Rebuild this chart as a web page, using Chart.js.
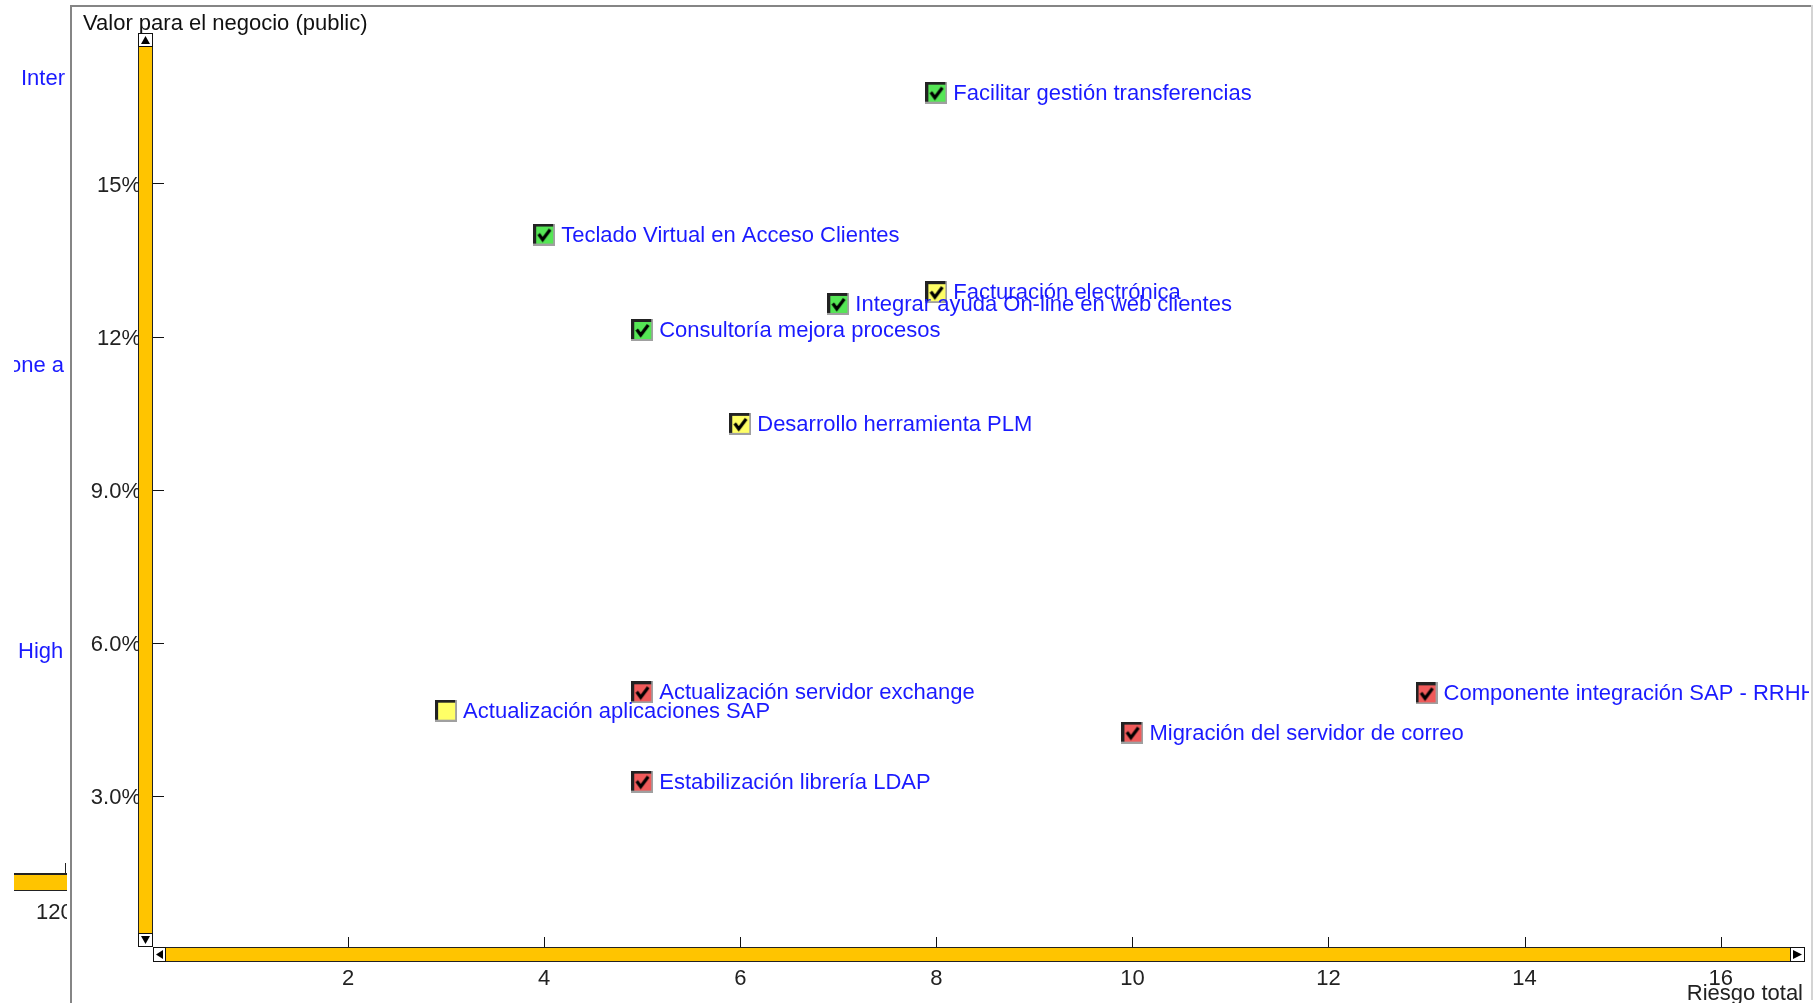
<!DOCTYPE html>
<html>
<head>
<meta charset="utf-8">
<script src="https://cdn.jsdelivr.net/npm/chart.js@4.4.1/dist/chart.umd.min.js"></script>
<style>
  html, body { margin: 0; padding: 0; background: #fff; }
  canvas { display: block; }
</style>
</head>
<body>
<canvas id="chart" width="1819" height="1003"></canvas>
<script>
// Project portfolio: risk (x) vs business value (y, %)
const projects = [
  'Facilitar gestión transferencias',
  'Teclado Virtual en Acceso Clientes',
  'Facturación electrónica',
  'Integrar ayuda On-line en web clientes',
  'Consultoría mejora procesos',
  'Desarrollo herramienta PLM',
  'Actualización servidor exchange',
  'Actualización aplicaciones SAP',
  'Estabilización librería LDAP',
  'Componente integración SAP - RRHH',
  'Migración del servidor de correo'
];
const riskValues = [8, 4, 8, 7, 5, 6, 5, 3, 5, 13, 10];
const businessValues = [16.78, 14.0, 12.87, 12.64, 12.13, 10.29, 5.03, 4.67, 3.28, 5.01, 4.24];
const status = ['green', 'green', 'yellow', 'green', 'green', 'yellow', 'red', 'yellow', 'red', 'red', 'red'];
const approved = [true, true, true, true, true, true, true, false, true, true, true];

const xTicks = [2, 4, 6, 8, 10, 12, 14, 16];
const yTicks = [3, 6, 9, 12, 15];
const yTickLabels = ['3.0%', '6.0%', '9.0%', '12%', '15%'];
const xMax = 16.85;
const yMax = 17.87;

const FONT = '22px "Liberation Sans", Arial, sans-serif';
const statusFill = { green: '#55e655', yellow: '#ffff66', red: '#f05a5a' };

// little 3D check boxes used as point markers
function makeMarker(fill, checked) {
  const c = document.createElement('canvas');
  c.width = 22; c.height = 22;
  const g = c.getContext('2d');
  g.fillStyle = fill;
  g.fillRect(0, 0, 22, 22);
  g.fillStyle = '#a0a0a0';
  g.fillRect(0, 20, 22, 2);
  g.fillRect(20, 0, 2, 22);
  g.fillStyle = '#222';
  g.fillRect(0, 0, 20, 3);
  g.fillRect(0, 0, 3, 20);
  if (checked) {
    g.strokeStyle = '#000';
    g.lineWidth = 3.2;
    g.lineJoin = 'miter';
    g.beginPath();
    g.moveTo(5.5, 10.5);
    g.lineTo(9.5, 16);
    g.lineTo(17, 6);
    g.stroke();
  }
  return c;
}
const markers = projects.map((p, i) => makeMarker(statusFill[status[i]], approved[i]));

const points = riskValues.map((r, i) => ({ x: r, y: businessValues[i] }));

function drawArrowBox(ctx, x, y, w, h, dir) {
  ctx.fillStyle = '#fff';
  ctx.fillRect(x, y, w, h);
  ctx.strokeStyle = '#111';
  ctx.lineWidth = 1;
  ctx.strokeRect(x + 0.5, y + 0.5, w - 1, h - 1);
  ctx.fillStyle = '#000';
  const cx = x + w / 2, cy = y + h / 2;
  ctx.beginPath();
  if (dir === 'up') { ctx.moveTo(cx, y + 3); ctx.lineTo(x + 3, y + h - 3); ctx.lineTo(x + w - 3, y + h - 3); }
  if (dir === 'down') { ctx.moveTo(cx, y + h - 3); ctx.lineTo(x + 3, y + 3); ctx.lineTo(x + w - 3, y + 3); }
  if (dir === 'left') { ctx.moveTo(x + 3, cy); ctx.lineTo(x + w - 3, y + 3); ctx.lineTo(x + w - 3, y + h - 3); }
  if (dir === 'right') { ctx.moveTo(x + w - 3, cy); ctx.lineTo(x + 3, y + 3); ctx.lineTo(x + 3, y + h - 3); }
  ctx.closePath();
  ctx.fill();
}

function drawBar(ctx, x, y, w, h) {
  ctx.fillStyle = '#ffc400';
  ctx.fillRect(x, y, w, h);
  ctx.strokeStyle = '#222';
  ctx.lineWidth = 1;
  ctx.strokeRect(x + 0.5, y + 0.5, w - 1, h - 1);
}

// frame, axis bars, ticks and titles
const framePlugin = {
  id: 'frame',
  beforeDatasetsDraw(chart) {
    const ctx = chart.ctx;
    const xs = chart.scales.x, ys = chart.scales.y;
    const x0 = xs.getPixelForValue(0);
    const y0 = ys.getPixelForValue(0);
    ctx.save();

    // panel borders
    ctx.fillStyle = '#858585';
    ctx.fillRect(70, 5, 2, 998);
    ctx.fillRect(70, 5, 1743, 2);
    ctx.fillStyle = '#d4d4d4';
    ctx.fillRect(1811, 5, 2, 995);

    // neighbouring (clipped) panel on the left
    ctx.save();
    ctx.beginPath();
    ctx.rect(14, 0, 53, 1003);
    ctx.clip();
    ctx.font = FONT;
    ctx.fillStyle = '#1a1aff';
    ctx.textBaseline = 'middle';
    ctx.fillText('Inter', 21, 79);
    ctx.fillText('one a', 9, 366);
    ctx.fillText('High', 18, 652);
    ctx.fillStyle = '#ffc400';
    ctx.fillRect(14, 873, 53, 18);
    ctx.fillStyle = '#222';
    ctx.fillRect(14, 873, 53, 2);
    ctx.fillRect(14, 890, 53, 1);
    ctx.fillRect(65, 863, 1, 10);
    ctx.fillStyle = '#222';
    ctx.fillText('120', 36, 913);
    ctx.restore();

    // title of value axis
    ctx.font = FONT;
    ctx.fillStyle = '#111';
    ctx.textBaseline = 'middle';
    ctx.textAlign = 'left';
    ctx.fillText('Valor para el negocio (public)', 83, 24);

    // y tick labels (bar drawn over their right edge)
    ctx.fillStyle = '#222';
    ctx.textAlign = 'right';
    yTicks.forEach((t, i) => {
      ctx.fillText(yTickLabels[i], x0 - 11, ys.getPixelForValue(t) + 2);
    });

    // vertical axis bar
    const vbL = x0 - 14, vbW = 15;
    const vTop = ys.top - 4;
    drawBar(ctx, vbL, vTop, vbW, y0 - 2 - vTop);
    drawArrowBox(ctx, vbL, vTop, vbW, 14, 'up');
    drawArrowBox(ctx, vbL, y0 - 16, vbW, 14, 'down');

    // horizontal axis bar
    const hbT = y0 - 2, hbH = 15;
    const hRight = xs.right + 1;
    drawBar(ctx, x0 + 1, hbT, hRight - x0 - 1, hbH);
    drawArrowBox(ctx, x0 + 1, hbT, 13, hbH, 'left');
    drawArrowBox(ctx, hRight - 15, hbT, 15, hbH, 'right');

    // ticks
    ctx.fillStyle = '#111';
    yTicks.forEach(t => {
      const py = Math.round(ys.getPixelForValue(t));
      ctx.fillRect(x0 + 1, py, 11, 1);
    });
    xTicks.forEach(t => {
      const px = Math.round(xs.getPixelForValue(t));
      ctx.fillRect(px, hbT - 10, 1, 10);
    });

    // x tick labels
    ctx.fillStyle = '#222';
    ctx.textAlign = 'center';
    xTicks.forEach(t => {
      ctx.fillText(String(t), xs.getPixelForValue(t), y0 + 30);
    });
    ctx.textAlign = 'right';
    ctx.fillText('Riesgo total', hRight - 2, y0 + 45);
    ctx.restore();
  }
};

// project names next to the markers
const labelPlugin = {
  id: 'pointLabels',
  afterDatasetsDraw(chart) {
    const ctx = chart.ctx;
    const meta = chart.getDatasetMeta(0);
    ctx.save();
    ctx.beginPath();
    ctx.rect(72, 0, 1737, 1003);
    ctx.clip();
    ctx.font = FONT;
    ctx.fillStyle = '#1a1aff';
    ctx.textAlign = 'left';
    ctx.textBaseline = 'middle';
    meta.data.forEach((el, i) => {
      ctx.fillText(projects[i], el.x + 17, el.y + 1);
    });
    ctx.restore();
  }
};

new Chart(document.getElementById('chart'), {
  type: 'scatter',
  data: {
    datasets: [{
      data: points,
      pointStyle: ctx => markers[ctx.dataIndex],
      pointRadius: 11,
      pointHoverRadius: 11
    }]
  },
  options: {
    responsive: false,
    devicePixelRatio: 1,
    animation: false,
    layout: { padding: { left: 152, right: 15, top: 37, bottom: 54 } },
    plugins: { legend: { display: false }, tooltip: { enabled: false } },
    scales: {
      x: { type: 'linear', min: 0, max: xMax, display: false },
      y: { type: 'linear', min: 0, max: yMax, display: false }
    }
  },
  plugins: [framePlugin, labelPlugin]
});
</script>
</body>
</html>
